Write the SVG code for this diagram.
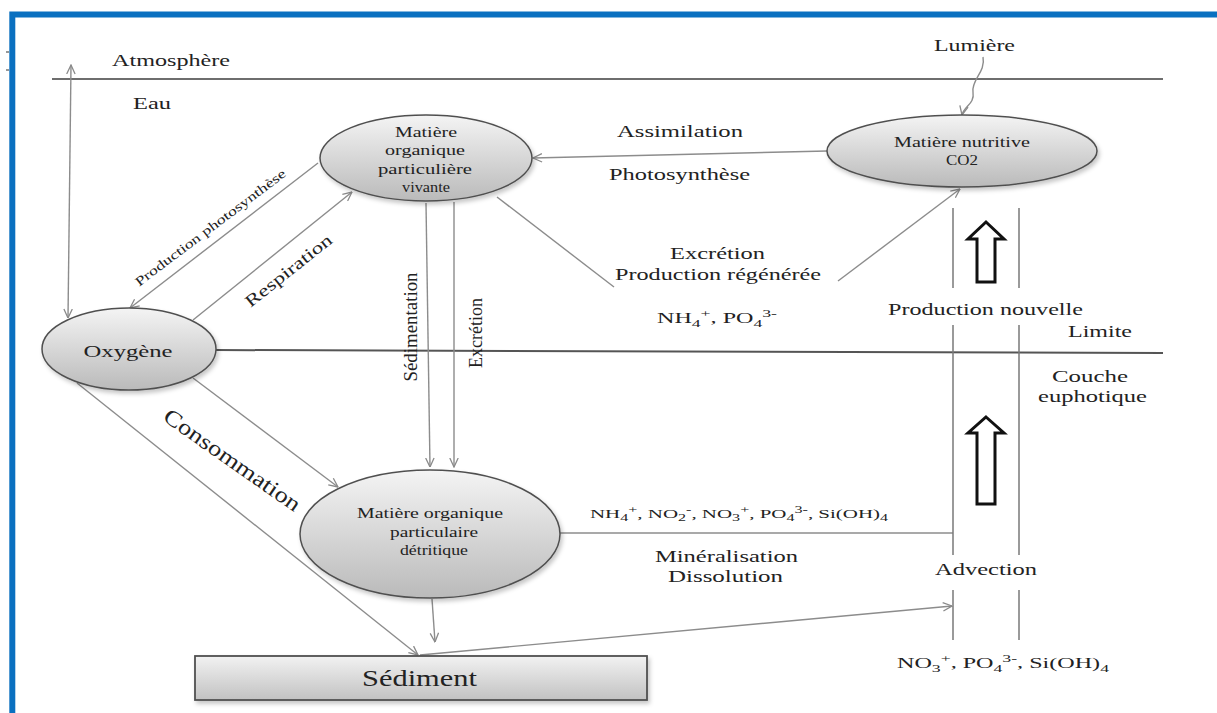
<svg xmlns="http://www.w3.org/2000/svg" width="1217" height="713" viewBox="0 0 1217 713">
<defs>
<style>
.lbl{font-size:17px}
.ell{fill:url(#g);stroke:#505050;stroke-width:1.5;filter:url(#sh)}
.c{fill:none;stroke:#8c8c8c;stroke-width:1.4}
.ca{fill:none;stroke:#8c8c8c;stroke-width:1.4;marker-end:url(#arr)}
.col{fill:none;stroke:#7a7a7a;stroke-width:1.5}
.big{fill:#fff;stroke:#111;stroke-width:3;stroke-linejoin:miter}
.sub{font-size:11px}
</style>
<linearGradient id="g" x1="0" y1="0" x2="0" y2="1">
<stop offset="0" stop-color="#f4f4f4"/>
<stop offset="1" stop-color="#bababa"/>
</linearGradient>
<linearGradient id="gr" x1="0" y1="0" x2="0" y2="1">
<stop offset="0" stop-color="#f2f2f2"/>
<stop offset="1" stop-color="#c2c2c2"/>
</linearGradient>
<filter id="sh" x="-10%" y="-10%" width="125%" height="130%">
<feDropShadow dx="2" dy="3" stdDeviation="2" flood-color="#000" flood-opacity="0.22"/>
</filter>
<marker id="arr" viewBox="0 0 10 10" refX="9.5" refY="5" markerWidth="10" markerHeight="10" markerUnits="userSpaceOnUse" orient="auto-start-reverse">
<path d="M0.5,0.8 L9.5,5 L0.5,9.2" fill="none" stroke="#8a8a8a" stroke-width="1.3"/>
</marker>
</defs>
<rect width="1217" height="713" fill="#fff"/>
<path d="M12.3,713 V14.5 H1217" fill="none" stroke="#0a70c0" stroke-width="6"/>
<path d="M6,52 H9 M6,70 H9" stroke="#333" stroke-width="1.2"/>

<g fill="#222" font-family="'Liberation Serif', 'Times New Roman', serif">
<g id="layers">
<line x1="52" y1="79" x2="1163" y2="79" stroke="#6e6e6e" stroke-width="2"/>
<line x1="216" y1="350" x2="1163" y2="353" stroke="#555" stroke-width="2"/>
<text class="lbl" x="112" y="66" textLength="118" lengthAdjust="spacingAndGlyphs">Atmosphère</text>
<text class="lbl" x="133" y="109" textLength="38" lengthAdjust="spacingAndGlyphs">Eau</text>
<text class="lbl" x="1068" y="337" textLength="64" lengthAdjust="spacingAndGlyphs">Limite</text>
<text class="lbl" x="1052" y="382" textLength="76" lengthAdjust="spacingAndGlyphs">Couche</text>
<text class="lbl" x="1038" y="402" textLength="109" lengthAdjust="spacingAndGlyphs">euphotique</text>
</g>

<g id="connectors">
<line class="c" x1="71" y1="65" x2="68" y2="318" marker-start="url(#arr)" marker-end="url(#arr)"/>
<line class="ca" x1="318" y1="163" x2="130" y2="308"/>
<line class="ca" x1="193" y1="320" x2="352" y2="192"/>
<line class="ca" x1="426" y1="203" x2="430" y2="467"/>
<line class="ca" x1="454" y1="202" x2="454" y2="467"/>
<line class="c" x1="497" y1="197" x2="614" y2="287"/>
<line class="ca" x1="838" y1="281" x2="960" y2="189"/>
<line class="ca" x1="827" y1="151" x2="533" y2="158"/>
<path class="ca" d="M983,57 C986,72 971,80 973,92 S964,106 962,115"/>
<line class="ca" x1="193" y1="378" x2="338" y2="487"/>
<line class="ca" x1="77" y1="383" x2="418" y2="655"/>
<line class="ca" x1="432" y1="599" x2="435" y2="642"/>
<line class="ca" x1="420" y1="655" x2="952" y2="606"/>
<line class="c" x1="559" y1="533" x2="953" y2="533"/>
<path class="col" d="M953,208 V288 M953,325 V555 M953,590 V640 M1019,208 V288 M1019,325 V555 M1019,590 V640"/>
<path class="big" d="M986,222 L1004,239 L995,239 L995,282 L977,282 L977,239 L968,239 Z"/>
<path class="big" d="M986,417 L1004,433 L995,433 L995,504 L977,504 L977,433 L968,433 Z"/>
</g>

<g id="edge-labels">
<text class="lbl" x="934" y="51" textLength="81" lengthAdjust="spacingAndGlyphs">Lumière</text>
<text class="lbl" x="617" y="137" textLength="126" lengthAdjust="spacingAndGlyphs">Assimilation</text>
<text class="lbl" x="609" y="180" textLength="141" lengthAdjust="spacingAndGlyphs">Photosynthèse</text>
<text class="lbl" x="670" y="259" textLength="95" lengthAdjust="spacingAndGlyphs">Excrétion</text>
<text class="lbl" x="615" y="280" textLength="206" lengthAdjust="spacingAndGlyphs">Production régénérée</text>
<text style="font-size:15px" x="657" y="323" textLength="120" lengthAdjust="spacingAndGlyphs">NH<tspan class="sub" baseline-shift="-4">4</tspan><tspan class="sub" baseline-shift="6">+</tspan>,  PO<tspan class="sub" baseline-shift="-4">4</tspan><tspan class="sub" baseline-shift="6">3-</tspan></text>
<text class="lbl" x="888" y="315" textLength="195" lengthAdjust="spacingAndGlyphs">Production nouvelle</text>
<text style="font-size:13px" x="590" y="518" textLength="298" lengthAdjust="spacingAndGlyphs">NH<tspan class="sub" style="font-size:10px" baseline-shift="-3">4</tspan><tspan class="sub" style="font-size:10px" baseline-shift="5">+</tspan>, NO<tspan class="sub" style="font-size:10px" baseline-shift="-3">2</tspan><tspan class="sub" style="font-size:10px" baseline-shift="5">-</tspan>,  NO<tspan class="sub" style="font-size:10px" baseline-shift="-3">3</tspan><tspan class="sub" style="font-size:10px" baseline-shift="5">+</tspan>,  PO<tspan class="sub" style="font-size:10px" baseline-shift="-3">4</tspan><tspan class="sub" style="font-size:10px" baseline-shift="5">3-</tspan>, Si(OH)<tspan class="sub" style="font-size:10px" baseline-shift="-3">4</tspan></text>
<text class="lbl" x="655" y="562" textLength="143" lengthAdjust="spacingAndGlyphs">Minéralisation</text>
<text class="lbl" x="668" y="582" textLength="115" lengthAdjust="spacingAndGlyphs">Dissolution</text>
<text class="lbl" x="935" y="575" textLength="102" lengthAdjust="spacingAndGlyphs">Advection</text>
<text style="font-size:15px" x="897" y="668" textLength="212" lengthAdjust="spacingAndGlyphs">NO<tspan class="sub" baseline-shift="-4">3</tspan><tspan class="sub" baseline-shift="6">+</tspan>,  PO<tspan class="sub" baseline-shift="-4">4</tspan><tspan class="sub" baseline-shift="6">3-</tspan>, Si(OH)<tspan class="sub" baseline-shift="-4">4</tspan></text>
<text style="font-size:13px" x="213" y="231" text-anchor="middle" textLength="185" lengthAdjust="spacingAndGlyphs" transform="rotate(-37 213 231)">Production photosynthèse</text>
<text style="font-size:17px" x="292" y="275" text-anchor="middle" textLength="106" lengthAdjust="spacingAndGlyphs" transform="rotate(-38.5 292 275)">Respiration</text>
<text style="font-size:22px" x="228" y="466" text-anchor="middle" textLength="162" lengthAdjust="spacingAndGlyphs" transform="rotate(35 228 466)">Consommation</text>
<text style="font-size:19px" x="417" y="327" text-anchor="middle" textLength="109" lengthAdjust="spacingAndGlyphs" transform="rotate(-90 417 327)">Sédimentation</text>
<text style="font-size:19px" x="482" y="333" text-anchor="middle" textLength="70" lengthAdjust="spacingAndGlyphs" transform="rotate(-90 482 333)">Excrétion</text>
</g>

<g id="node-vivante">
<ellipse class="ell" cx="426" cy="158" rx="106" ry="43"/>
<text style="font-size:14.5px" x="426" y="137" text-anchor="middle" textLength="62" lengthAdjust="spacingAndGlyphs">Matière</text>
<text style="font-size:14.5px" x="425" y="155" text-anchor="middle" textLength="80" lengthAdjust="spacingAndGlyphs">organique</text>
<text style="font-size:14.5px" x="425" y="174" text-anchor="middle" textLength="94" lengthAdjust="spacingAndGlyphs">particulière</text>
<text style="font-size:14.5px" x="426" y="192" text-anchor="middle" textLength="48" lengthAdjust="spacingAndGlyphs">vivante</text>
</g>

<g id="node-nutritive">
<ellipse class="ell" cx="962" cy="151" rx="135" ry="36"/>
<text style="font-size:14px" x="962" y="147" text-anchor="middle" textLength="136" lengthAdjust="spacingAndGlyphs">Matière nutritive</text>
<text style="font-size:14px" x="962" y="165" text-anchor="middle" textLength="32" lengthAdjust="spacingAndGlyphs">CO2</text>
</g>

<g id="node-oxygene">
<ellipse class="ell" cx="129" cy="349" rx="87" ry="41"/>
<text style="font-size:17px" x="128" y="357" text-anchor="middle" textLength="89" lengthAdjust="spacingAndGlyphs">Oxygène</text>
</g>

<g id="node-detritique">
<ellipse class="ell" cx="430" cy="534" rx="130" ry="64"/>
<text style="font-size:14px" x="430" y="518" text-anchor="middle" textLength="146" lengthAdjust="spacingAndGlyphs">Matière organique</text>
<text style="font-size:14px" x="434" y="537" text-anchor="middle" textLength="88" lengthAdjust="spacingAndGlyphs">particulaire</text>
<text style="font-size:14px" x="434" y="555" text-anchor="middle" textLength="68" lengthAdjust="spacingAndGlyphs">détritique</text>
</g>

<g id="node-sediment">
<rect x="195" y="656" width="452" height="44" fill="url(#gr)" stroke="#505050" stroke-width="1.8" filter="url(#sh)"/>
<text style="font-size:23px" x="362" y="686" textLength="115" lengthAdjust="spacingAndGlyphs">Sédiment</text>
</g>
</g>
</svg>
